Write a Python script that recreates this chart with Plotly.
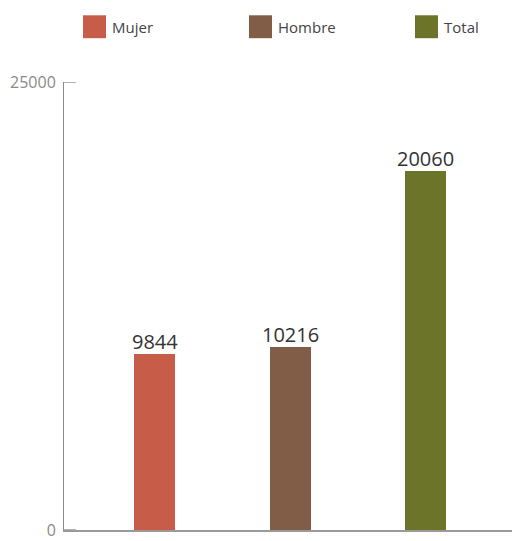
import plotly.graph_objects as go

# Population counts by sex
categories = ["Mujer", "Hombre", "Total"]
values = [9844, 10216, 20060]
colors = ["#C75C48", "#815C46", "#6B7429"]
y_ticks = [0, 25000]

FONT = "Open Sans"
W, H = 512, 541
ML, MR, MT, MB = 64, 0, 82, 9
PW, PH = W - ML - MR, H - MT - MB
TICK_LEN = 12

fig = go.Figure()
fig.add_trace(go.Bar(
    x=list(range(len(categories))),
    y=values,
    marker=dict(color=colors, line=dict(width=0)),
    width=0.303,
    showlegend=False,
    hoverinfo="skip",
))

# Value labels sitting on top of each bar
annotations = []
for i, v in enumerate(values):
    annotations.append(dict(x=i, y=v, xref="x", yref="y", text=str(v),
                            showarrow=False, xanchor="center", yanchor="bottom",
                            borderpad=0, yshift=-2,
                            font=dict(family=FONT, size=20, color="#333333")))

# Legend drawn as swatches with labels along the top
def px_x(p):
    return (p - ML) / PW

def px_y(p):
    return (H - MB - p) / PH

shapes = []
legend_x = [83, 249, 415]
for lx, name, col in zip(legend_x, categories, colors):
    shapes.append(dict(type="rect", xref="paper", yref="paper",
                       x0=px_x(lx), x1=px_x(lx + 23), y0=px_y(38), y1=px_y(15),
                       fillcolor=col, line=dict(width=0)))
    annotations.append(dict(xref="paper", yref="paper", x=px_x(lx + 27), y=px_y(27),
                            text=name, showarrow=False, xanchor="left", yanchor="middle",
                            font=dict(family=FONT, size=15, color="#444444")))

# Inward tick marks on the value axis
for t in y_ticks:
    shapes.append(dict(type="line", xref="paper", yref="y",
                       x0=0, x1=TICK_LEN / PW, y0=t, y1=t,
                       line=dict(color="#8a8a8a", width=1.3)))

fig.update_layout(
    width=W, height=H,
    margin=dict(l=ML, r=MR, t=MT, b=MB, pad=0),
    paper_bgcolor="white", plot_bgcolor="white",
    shapes=shapes, annotations=annotations,
    bargap=0,
    xaxis=dict(range=[-0.668, 2.638], showticklabels=False, ticks="",
               showgrid=False, zeroline=False, showline=True,
               linecolor="#9a9a9a", linewidth=1.5),
    yaxis=dict(range=[0, 25000], tickmode="array", tickvals=y_ticks,
               ticktext=[str(t) for t in y_ticks],
               ticks="", showgrid=False, zeroline=False, showline=True,
               linecolor="#8a8a8a", linewidth=1,
               tickfont=dict(family=FONT, size=16, color="#8a8a8a"),
               ticklabelstandoff=4, ticklabeloverflow="allow"),
)

fig.write_html("out.html")
